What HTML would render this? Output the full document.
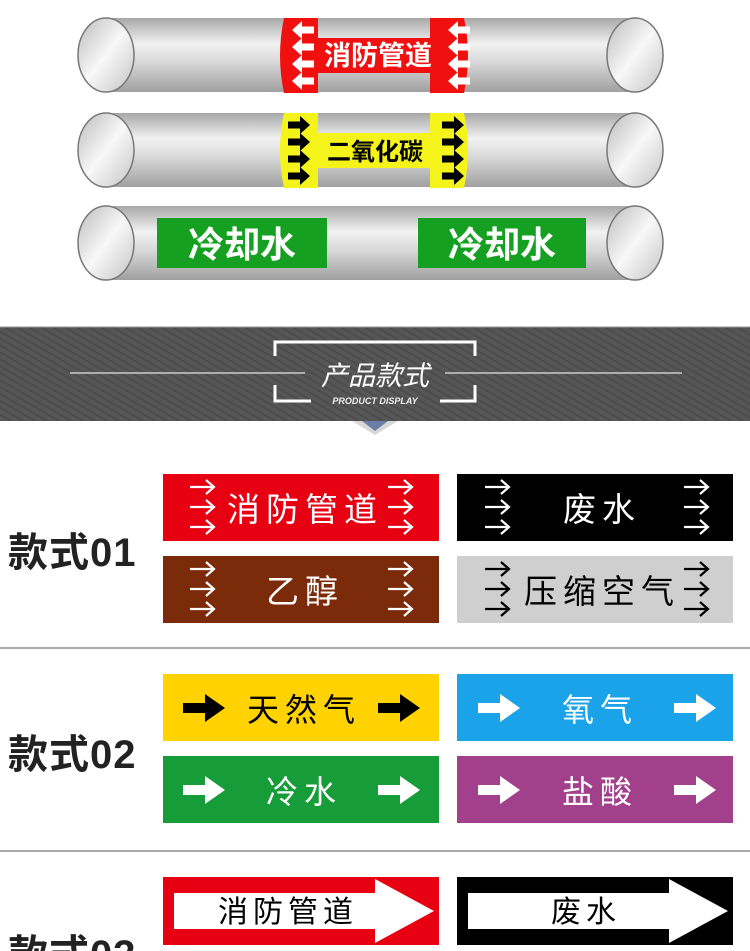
<!DOCTYPE html>
<html><head><meta charset="utf-8"><style>
html,body{margin:0;padding:0;background:#fff;width:750px;height:951px;overflow:hidden}
svg text{font-family:"Liberation Sans","Noto Sans CJK SC",sans-serif}
</style></head><body>
<svg width="750" height="951" viewBox="0 0 750 951" xmlns="http://www.w3.org/2000/svg">
<defs>
<linearGradient id="pg" x1="0" y1="0" x2="0" y2="1">
<stop offset="0" stop-color="#a8a8a8"/><stop offset="0.35" stop-color="#f2f2f2"/><stop offset="0.6" stop-color="#d8d8d8"/><stop offset="1" stop-color="#a0a0a0"/></linearGradient>
<linearGradient id="eg" x1="0" y1="0" x2="1" y2="1">
<stop offset="0" stop-color="#bbb"/><stop offset="0.5" stop-color="#f8f8f8"/><stop offset="1" stop-color="#c4c4c4"/></linearGradient>
<pattern id="st" width="6" height="6" patternUnits="userSpaceOnUse" patternTransform="rotate(-60)">
<rect width="6" height="6" fill="#565656"/><rect width="2" height="6" fill="#4c4c4c"/></pattern>
<g id="wa"><path d="M0,-3.5h12v-5.5l10,9l-10,9v-5.5h-12z"/></g>
<g id="ta"><path d="M0,0h24M16,-7l8,7l-8,7" fill="none" stroke-width="2.2"/></g>
<g id="t3"><use href="#ta" y="0"/><use href="#ta" y="20"/><use href="#ta" y="40"/></g>
</defs>

<g stroke="#777" stroke-width="1.5">
<rect x="105" y="18" width="530" height="74" fill="url(#pg)" stroke="none"/>
<ellipse cx="106" cy="55" rx="28" ry="37" fill="url(#eg)"/>
<ellipse cx="635" cy="55" rx="28" ry="37" fill="url(#eg)"/>
<rect x="105" y="113" width="530" height="74" fill="url(#pg)" stroke="none"/>
<ellipse cx="106" cy="150" rx="28" ry="37" fill="url(#eg)"/>
<ellipse cx="635" cy="150" rx="28" ry="37" fill="url(#eg)"/>
<rect x="105" y="206" width="530" height="74" fill="url(#pg)" stroke="none"/>
<ellipse cx="106" cy="243" rx="28" ry="37" fill="url(#eg)"/>
<ellipse cx="635" cy="243" rx="28" ry="37" fill="url(#eg)"/>
</g>
<path d="M284,18h34v20h112v-20h34q8,37 0,75h-34v-20h-112v20h-34q-8,-37 0,-75z" fill="#f01010"/>
<g fill="#fff">
<g transform="translate(314,30) scale(-1,1)"><use href="#wa"/></g>
<g transform="translate(314,47) scale(-1,1)"><use href="#wa"/></g>
<g transform="translate(314,64) scale(-1,1)"><use href="#wa"/></g>
<g transform="translate(314,81) scale(-1,1)"><use href="#wa"/></g>
<g transform="translate(470,30) scale(-1,1)"><use href="#wa"/></g>
<g transform="translate(470,47) scale(-1,1)"><use href="#wa"/></g>
<g transform="translate(470,64) scale(-1,1)"><use href="#wa"/></g>
<g transform="translate(470,81) scale(-1,1)"><use href="#wa"/></g>
</g>
<text x="378" y="65" font-size="27" font-weight="bold" fill="#fff" text-anchor="middle">消防管道</text>
<path d="M284,113h34v20h112v-20h34q8,37 0,75h-34v-20h-112v20h-34q-8,-37 0,-75z" fill="#f4f41a"/>
<g fill="#000">
<use href="#wa" x="288" y="125"/><use href="#wa" x="288" y="142"/><use href="#wa" x="288" y="159"/><use href="#wa" x="288" y="176"/>
<use href="#wa" x="442" y="125"/><use href="#wa" x="442" y="142"/><use href="#wa" x="442" y="159"/><use href="#wa" x="442" y="176"/>
</g>
<text x="375" y="160" font-size="24" font-weight="bold" fill="#000" text-anchor="middle">二氧化碳</text>
<rect x="157" y="218" width="170" height="50" fill="#15a021"/>
<rect x="418" y="218" width="168" height="50" fill="#15a021"/>
<text x="242" y="257" font-size="36" font-weight="bold" fill="#fff" text-anchor="middle">冷却水</text>
<text x="502" y="257" font-size="36" font-weight="bold" fill="#fff" text-anchor="middle">冷却水</text>

<rect x="0" y="327" width="750" height="94" fill="url(#st)"/>
<line x1="0" y1="327" x2="750" y2="327" stroke="#999"/>
<g stroke="#ccc" stroke-width="1.5"><line x1="70" y1="373" x2="305" y2="373"/><line x1="445" y1="373" x2="682" y2="373"/></g>
<g stroke="#fff" stroke-width="3" fill="none">
<path d="M275,356v-14h200v14"/>
<path d="M275,385v16h36M475,385v16h-35"/>
</g>
<text x="375" y="385" font-size="27" fill="#fff" text-anchor="middle" font-style="italic">产品款式</text>
<text x="375" y="404" font-size="9" font-weight="bold" fill="#eee" text-anchor="middle" font-style="italic">PRODUCT DISPLAY</text>
<path d="M352,421h46l-23,14z" fill="#d8d8d8"/>
<path d="M362,421h26l-13,10z" fill="#6b7ea8"/>

<g font-size="40" font-weight="bold" fill="#222" letter-spacing="1">
<text x="8" y="566">款式01</text>
<text x="8" y="768">款式02</text>
<text x="8" y="968">款式03</text>
</g>
<g stroke="#777" stroke-width="1.2"><line x1="0" y1="648" x2="750" y2="648"/><line x1="0" y1="851" x2="750" y2="851"/></g>

<rect x="163" y="474" width="276" height="67" fill="#e60012"/>
<rect x="163" y="556" width="276" height="67" fill="#7b2a0a"/>
<rect x="457" y="474" width="276" height="67" fill="#000"/>
<rect x="457" y="556" width="276" height="67" fill="#cfcfcf"/>
<g stroke="#fff">
<use href="#t3" x="190" y="487"/><use href="#t3" x="388" y="487"/>
<use href="#t3" x="190" y="569"/><use href="#t3" x="388" y="569"/>
<use href="#t3" x="485" y="487"/><use href="#t3" x="684" y="487"/>
</g>
<g stroke="#000">
<use href="#t3" x="485" y="569"/><use href="#t3" x="684" y="569"/>
</g>
<g font-size="33" text-anchor="middle" letter-spacing="6">
<text x="305" y="521" fill="#fff">消防管道</text>
<text x="305" y="603" fill="#fff">乙醇</text>
<text x="602" y="521" fill="#fff">废水</text>
<text x="602" y="603" fill="#000">压缩空气</text>
</g>

<rect x="163" y="674" width="276" height="67" fill="#ffd200"/>
<rect x="163" y="756" width="276" height="67" fill="#179c3a"/>
<rect x="457" y="674" width="276" height="67" fill="#1aa3e8"/>
<rect x="457" y="756" width="276" height="67" fill="#a3408c"/>
<g>
<path d="M183,703h22v-9l20,14l-20,14v-9h-22z" fill="#000"/>
<path d="M378,703h22v-9l20,14l-20,14v-9h-22z" fill="#000"/>
<path d="M183,785h22v-9l20,14l-20,14v-9h-22z" fill="#fff"/>
<path d="M378,785h22v-9l20,14l-20,14v-9h-22z" fill="#fff"/>
<path d="M478,703h22v-9l20,14l-20,14v-9h-22z" fill="#fff"/>
<path d="M674,703h22v-9l20,14l-20,14v-9h-22z" fill="#fff"/>
<path d="M478,785h22v-9l20,14l-20,14v-9h-22z" fill="#fff"/>
<path d="M674,785h22v-9l20,14l-20,14v-9h-22z" fill="#fff"/>
</g>
<g font-size="32" text-anchor="middle" letter-spacing="6">
<text x="304" y="721" fill="#000">天然气</text>
<text x="304" y="803" fill="#fff">冷水</text>
<text x="600" y="721" fill="#fff">氧气</text>
<text x="600" y="803" fill="#fff">盐酸</text>
</g>

<rect x="163" y="877" width="276" height="68" fill="#e60012"/>
<rect x="457" y="877" width="276" height="68" fill="#000"/>
<path d="M174,893h201v-14l59,32l-59,32v-14h-201z" fill="#fff"/>
<path d="M468,893h201v-14l59,32l-59,32v-14h-201z" fill="#fff"/>
<g font-size="30" text-anchor="middle" letter-spacing="5" fill="#000">
<text x="288" y="922">消防管道</text>
<text x="586" y="922">废水</text>
</g>
</svg>
</body></html>
